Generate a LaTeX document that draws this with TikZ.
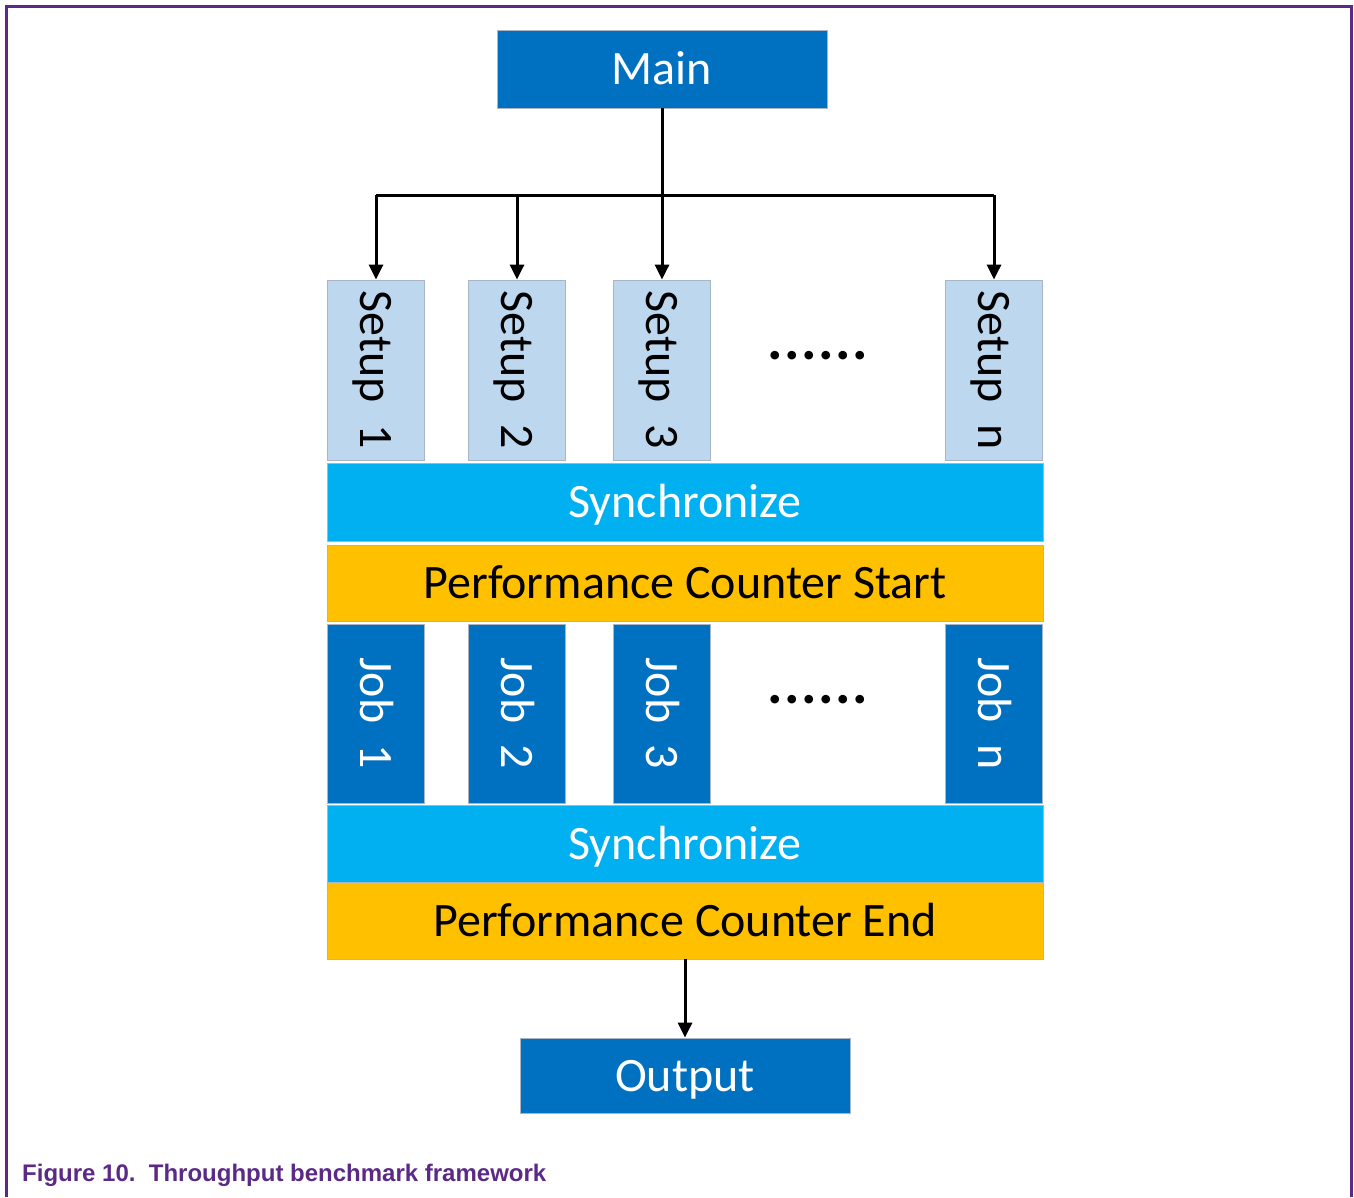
\documentclass[tikz,border=0pt]{standalone}
\usepackage{fontspec}
\setmainfont{Carlito}
\newfontfamily\capfont{Liberation Sans}
\usetikzlibrary{arrows.meta}
\definecolor{nxppurple}{HTML}{5B2A86}
\definecolor{dkblue}{HTML}{0070C0}
\definecolor{ltblue}{HTML}{BDD7EE}
\definecolor{cyanblue}{HTML}{00B0F0}
\definecolor{gold}{HTML}{FFC000}
\definecolor{edgegray}{HTML}{A9B5C4}
\newcommand\mydots{.\kern1.5pt.\kern1.5pt.\kern1.5pt.\kern1.5pt.\kern1.5pt.}
\tikzset{
  box/.style={rectangle, inner sep=0pt, draw=edgegray, line width=0.8pt,
    font=\fontsize{48}{56}\selectfont, text height=31pt, text depth=0pt},
  widebox/.style={box, minimum width=330pt, minimum height=77pt, fill=dkblue, text=white},
  setupbox/.style={box, minimum width=180pt, minimum height=97pt, fill=ltblue, text=black, rotate=-90},
  jobbox/.style={box, minimum width=179pt, minimum height=97pt, fill=dkblue, text=white, rotate=-90},
  syncbar/.style={box, minimum width=716pt, minimum height=78pt, fill=cyanblue, text=white},
  perfbar/.style={box, minimum width=716pt, minimum height=77pt, fill=gold, text=black},
  conn/.style={line width=3pt, black},
  arr/.style={conn, -{Triangle[width=14pt,length=15pt]}},
  dotsnode/.style={inner sep=0pt, font=\bfseries\fontsize{58}{64}\selectfont}
}
\begin{document}
\begin{tikzpicture}[x=1pt,y=-1pt]
\useasboundingbox (0,0) rectangle (1354,1197);
\fill[white] (0,0) rectangle (1354,1197);
% frame
\draw[nxppurple, line width=3pt] (6.5,1197) -- (6.5,6.5) -- (1351.5,6.5) -- (1351.5,1197);

% main
\node[widebox, minimum height=78pt] (main) at (662,69) {Main};

% setups (rotated -90: west anchor is at the top)
\node[setupbox] (s1) at (376,370) {Setup\hspace{0.45em}1};
\node[setupbox] (s2) at (517,370) {Setup\hspace{0.45em}2};
\node[setupbox] (s3) at (662,370) {Setup\hspace{0.45em}3};
\node[setupbox] (sn) at (994,370) {Setup\hspace{0.45em}n};
\node[dotsnode] (d1) at (818,356) {\mydots};

% connectors from main
\coordinate (j) at (662,195);
\draw[conn] (main.south) -- (j);
\draw[conn] (s1.west |- j) -- (sn.west |- j);
\draw[arr] (s1.west |- j) -- (s1.west);
\draw[arr] (s2.west |- j) -- (s2.west);
\draw[arr] (j) -- (s3.west);
\draw[arr] (sn.west |- j) -- (sn.west);

% sync / perf start
\node[syncbar] (sync1) at (685,502) {Synchronize};
\node[perfbar, minimum height=76pt] (pstart) at (685,583) {Performance Counter Start};

% jobs
\node[jobbox] (j1) at (376,713.5) {Job\hspace{0.45em}1};
\node[jobbox] (j2) at (517,713.5) {Job\hspace{0.45em}2};
\node[jobbox] (j3) at (662,713.5) {Job\hspace{0.45em}3};
\node[jobbox] (jn) at (994,713.5) {Job\hspace{0.45em}n};
\node[dotsnode] (d2) at (818,700) {\mydots};

% sync / perf end
\node[syncbar, minimum height=77pt] (sync2) at (685,843.5) {Synchronize};
\node[perfbar] (pend) at (685,920.5) {Performance Counter End};

% output
\node[widebox, minimum height=75pt] (out) at (685,1075.5) {Output};
\draw[arr] (pend.south) -- (out.north);

% caption
\node[anchor=base west, inner sep=0pt, text=nxppurple, font=\capfont\bfseries\fontsize{24}{28}\selectfont] (cap) at (22,1181) {Figure 10.\ \ Throughput benchmark framework};
\end{tikzpicture}
\end{document}
